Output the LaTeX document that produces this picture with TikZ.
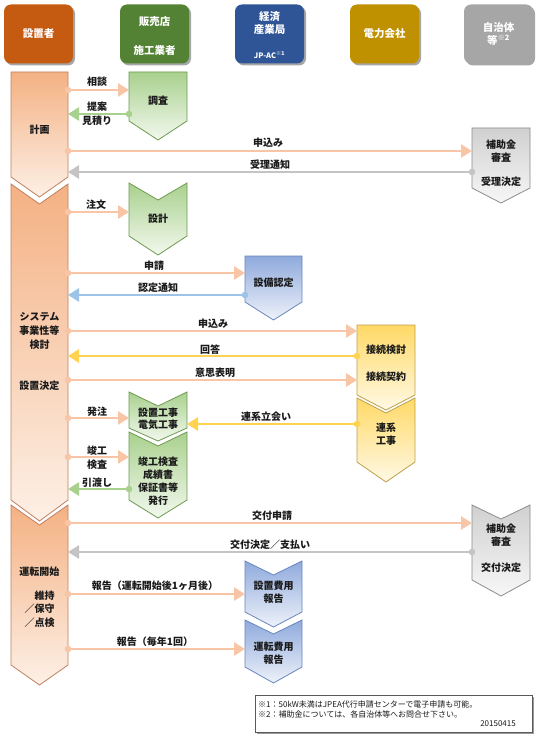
\documentclass[tikz,border=0pt]{standalone}
\usepackage{fontspec}
\setmainfont{Noto Sans CJK JP}
\usetikzlibrary{arrows.meta,shadows}
\definecolor{hOrange}{HTML}{C55A11}
\definecolor{hGreen}{HTML}{548235}
\definecolor{hBlue}{HTML}{2F5597}
\definecolor{hGold}{HTML}{BF9000}
\definecolor{hGray}{HTML}{A6A6A6}
\definecolor{oTop}{HTML}{F4B183}
\definecolor{oBot}{HTML}{FDF0E6}
\definecolor{oLine}{HTML}{C08060}
\definecolor{gTop}{HTML}{A9D18E}
\definecolor{gBot}{HTML}{F2F8EE}
\definecolor{gLine}{HTML}{6E9A50}
\definecolor{bTop}{HTML}{8FAADC}
\definecolor{bBot}{HTML}{EEF2FA}
\definecolor{bLine}{HTML}{6A86BE}
\definecolor{yTop}{HTML}{FFD966}
\definecolor{yBot}{HTML}{FFF9E6}
\definecolor{yLine}{HTML}{BFA04A}
\definecolor{rTop}{HTML}{D0D0D0}
\definecolor{rBot}{HTML}{F7F7F7}
\definecolor{rLine}{HTML}{8C8C8C}
\definecolor{aOrange}{HTML}{F8C6A6}
\definecolor{aGreen}{HTML}{A9D18E}
\definecolor{aGray}{HTML}{C4C4C4}
\definecolor{aBlue}{HTML}{9DC3E6}
\definecolor{aGold}{HTML}{FFD24F}
\definecolor{txt}{HTML}{1A1A1A}
\begin{document}
\begin{tikzpicture}[x=1pt,y=-1pt,
  hdr/.style={rounded corners=7pt, minimum width=69pt, minimum height=59pt, inner sep=0pt,
    drop shadow={shadow xshift=2pt,shadow yshift=-2pt,opacity=0.35,fill=black}},
  htext/.style={text=white, font=\bfseries\fontsize{10.5}{13}\selectfont, align=center, inner sep=0pt},
  stext/.style={text=txt, font=\bfseries\fontsize{10}{13}\selectfont, align=center, inner sep=0pt},
  lab/.style={text=txt, font=\bfseries\fontsize{10}{13}\selectfont, align=center, inner sep=0pt},
  flow/.style={line width=2.6pt, -{Triangle[length=11pt,width=13pt]}},
  oshape/.style={draw=oLine, line width=0.8pt, top color=oTop, bottom color=oBot},
  gshape/.style={draw=gLine, line width=0.8pt, top color=gTop, bottom color=gBot},
  bshape/.style={draw=bLine, line width=0.8pt, top color=bTop, bottom color=bBot},
  yshape/.style={draw=yLine, line width=0.8pt, top color=yTop, bottom color=yBot},
  rshape/.style={draw=rLine, line width=0.8pt, top color=rTop, bottom color=rBot},
  note/.style={text=txt, font=\fontsize{8}{10}\selectfont, inner sep=0pt}
]
\useasboundingbox (0,0) rectangle (545,741);
\fill[white] (0,0) rectangle (545,741);

% ---------- headers ----------
\node[hdr, fill=hOrange] (h1) at (38.5,34) {};
\node[hdr, fill=hGreen]  (h2) at (154.5,34) {};
\node[hdr, fill=hBlue]   (h3) at (269.5,34) {};
\node[hdr, fill=hGold]   (h4) at (384.5,34) {};
\node[hdr, fill=hGray]   (h5) at (498.5,34) {};
\node[htext] (h1t) at (38.5,34) {設置者};
\node[htext] (h2a) at (154.5,22) {販売店};
\node[htext] (h2b) at (154.5,51) {施工業者};
\node[htext] (h3a) at (269.5,23) {経済\\産業局};
\node[htext, font=\bfseries\fontsize{7.5}{8}\selectfont] (h3b) at (269.5,55) {JP-AC\textsuperscript{※1}};
\node[htext] (h4t) at (384.5,34) {電力会社};
\node[htext] (h5t) at (498.5,34) {自治体\\等\textsuperscript{※2}};

% ---------- 設置者 column ----------
\path[oshape] (11,72) -- (68,72) -- (68,177) -- (39.5,197) -- (11,177) -- cycle;
\path[oshape] (11,184) -- (39.5,204) -- (68,184) -- (68,500) -- (39.5,521) -- (11,500) -- cycle;
\path[oshape] (11,505) -- (39.5,525) -- (68,505) -- (68,665) -- (39.5,685) -- (11,665) -- cycle;
\node[stext] (L1) at (39.5,130) {計画};
\node[stext, font=\bfseries\fontsize{10}{14}\selectfont] (L2) at (39.5,331) {システム\\事業性等\\検討};
\node[stext] (L3) at (39.5,386) {設置決定};
\node[stext] (L4) at (39.5,572) {運転開始};
\node[stext, align=right, font=\bfseries\fontsize{10}{13.5}\selectfont] (L5) at (39.5,609) {維持\\／保守\\／点検};

% ---------- 販売店 column ----------
\path[gshape] (129,72) -- (187,72) -- (187,121) -- (158,140) -- (129,121) -- cycle;
\path[gshape] (129,183) -- (158,200) -- (187,183) -- (187,236) -- (158,255) -- (129,236) -- cycle;
\path[gshape] (129,392) -- (158,406) -- (187,392) -- (187,428) -- (158,441) -- (129,428) -- cycle;
\path[gshape] (129,432) -- (158,446) -- (187,432) -- (187,500) -- (158,518) -- (129,500) -- cycle;
\node[stext] (G1) at (158,101) {調査};
\node[stext] (G2) at (158,219) {設計};
\node[stext, font=\bfseries\fontsize{10}{12}\selectfont] (G3) at (158,419) {設置工事\\電気工事};
\node[stext] (G4) at (158,481) {竣工検査\\成績書\\保証書等\\発行};

% ---------- 経済産業局 column ----------
\path[bshape] (245,256) -- (302,256) -- (302,302) -- (273.5,320) -- (245,302) -- cycle;
\path[bshape] (245,561) -- (273.5,575) -- (302,561) -- (302,612) -- (273.5,627) -- (245,612) -- cycle;
\path[bshape] (245,620) -- (273.5,634) -- (302,620) -- (302,667) -- (273.5,683) -- (245,667) -- cycle;
\node[stext] (B1) at (273.5,283) {設備認定};
\node[stext] (B2) at (273.5,592) {設置費用\\報告};
\node[stext] (B3) at (273.5,653) {運転費用\\報告};

% ---------- 電力会社 column ----------
\path[yshape] (357,325) -- (415,325) -- (415,395) -- (386,410) -- (357,395) -- cycle;
\path[yshape] (357,398) -- (386,413) -- (415,398) -- (415,462) -- (386,482) -- (357,462) -- cycle;
\node[stext] (Y1a) at (386,350) {接続検討};
\node[stext] (Y1b) at (386,377) {接続契約};
\node[stext] (Y2) at (386,434) {連系\\工事};

% ---------- 自治体 column ----------
\path[rshape] (472,128) -- (530,128) -- (530,188) -- (501,203) -- (472,188) -- cycle;
\path[rshape] (472,505) -- (501,519) -- (530,505) -- (530,580) -- (501,596) -- (472,580) -- cycle;
\node[stext] (R1a) at (501,151) {補助金\\審査};
\node[stext] (R1b) at (501,182) {受理決定};
\node[stext] (R2a) at (501,535) {補助金\\審査};
\node[stext] (R2b) at (501,568) {交付決定};

% ---------- connector end points ----------
\coordinate (a1s) at (68,90);   \coordinate (a1e) at (129,90);
\coordinate (a2s) at (129,114); \coordinate (a2e) at (68,114);
\coordinate (a3s) at (68,151);  \coordinate (a3e) at (472,151);
\coordinate (a4s) at (472,172); \coordinate (a4e) at (68,172);
\coordinate (a5s) at (68,212);  \coordinate (a5e) at (129,212);
\coordinate (a6s) at (68,273);  \coordinate (a6e) at (245,273);
\coordinate (a7s) at (245,295); \coordinate (a7e) at (68,295);
\coordinate (a8s) at (68,331);  \coordinate (a8e) at (357,331);
\coordinate (a9s) at (357,356); \coordinate (a9e) at (68,356);
\coordinate (a10s) at (68,380); \coordinate (a10e) at (357,380);
\coordinate (a11s) at (68,418); \coordinate (a11e) at (129,418);
\coordinate (a12s) at (357,424);\coordinate (a12e) at (187,424);
\coordinate (a13s) at (68,457); \coordinate (a13e) at (129,457);
\coordinate (a14s) at (129,489);\coordinate (a14e) at (68,489);
\coordinate (a15s) at (68,523); \coordinate (a15e) at (472,523);
\coordinate (a16s) at (472,552);\coordinate (a16e) at (68,552);
\coordinate (a17s) at (68,594); \coordinate (a17e) at (245,594);
\coordinate (a18s) at (68,649); \coordinate (a18e) at (245,649);

% ---------- connectors ----------
\foreach \a/\c in {a1/aOrange,a2/aGreen,a3/aOrange,a4/aGray,a5/aOrange,a6/aOrange,
  a7/aBlue,a8/aOrange,a9/aGold,a10/aOrange,a11/aOrange,a12/aGold,a13/aOrange,
  a14/aGreen,a15/aOrange,a16/aGray,a17/aOrange,a18/aOrange}{
  \draw[flow, draw=\c, fill=\c] (\a s) -- (\a e);
  \fill[\c] (\a s) circle (3.3pt);
}

% ---------- connector labels ----------
\node[lab] (t1) at (97,82) {相談};
\node[lab] (t2a) at (97,107) {提案};
\node[lab] (t2b) at (97,121) {見積り};
\node[lab] (t3) at (268,143) {申込み};
\node[lab] (t4) at (270,165) {受理通知};
\node[lab] (t5) at (96,205) {注文};
\node[lab] (t6) at (154,266) {申請};
\node[lab] (t7) at (158,288) {認定通知};
\node[lab] (t8) at (213,324) {申込み};
\node[lab] (t9) at (210,350) {回答};
\node[lab] (t10) at (215,373) {意思表明};
\node[lab] (t11) at (97,412) {発注};
\node[lab] (t12) at (266,417) {連系立会い};
\node[lab] (t13a) at (97,451) {竣工};
\node[lab] (t13b) at (97,465) {検査};
\node[lab] (t14) at (97,483) {引渡し};
\node[lab] (t15) at (272,516) {交付申請};
\node[lab] (t16) at (270,545) {交付決定／支払い};
\node[lab] (t17) at (155,586) {報告（運転開始後1ヶ月後）};
\node[lab] (t18) at (155,642) {報告（毎年1回）};

% ---------- footnote ----------
\node[draw=black!65, fill=white, line width=0.6pt, minimum width=277pt, minimum height=37pt, inner sep=0pt,
  drop shadow={shadow xshift=2pt,shadow yshift=-2pt,opacity=0.4,fill=black}] (nb) at (393.5,713.5) {};
\node[note, anchor=west] (n1) at (258,704.5) {※1：50kW未満はJPEA代行申請センターで電子申請も可能。};
\node[note, anchor=west] (n2) at (258,714) {※2：補助金については、各自治体等へお問合せ下さい。};
\node[note, anchor=east] (n3) at (516,724) {20150415};
\end{tikzpicture}
\end{document}
